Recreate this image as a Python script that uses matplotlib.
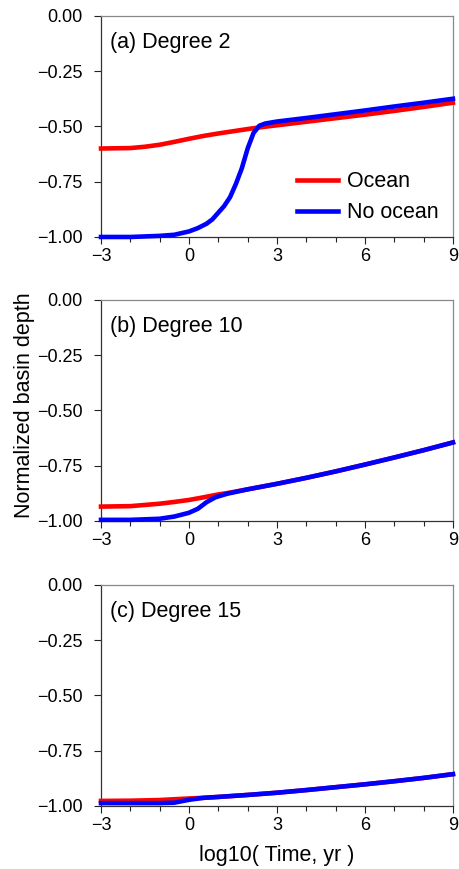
import matplotlib
matplotlib.use("Agg")
import matplotlib.pyplot as plt
from matplotlib.ticker import MultipleLocator

plt.rcParams['font.family'] = ['Liberation Sans', 'DejaVu Sans']

# panel (a) degree 2
t_a_ocean = [-3, -2, -1.5, -1, -0.5, 0, 0.5, 1, 1.5, 2, 2.5, 3, 4, 5, 6, 7, 8, 9]
d_a_ocean = [-0.600, -0.598, -0.592, -0.583, -0.570, -0.556, -0.543, -0.532, -0.522,
             -0.512, -0.503, -0.495, -0.479, -0.463, -0.447, -0.430, -0.412, -0.393]
t_a_dry = [-3, -2, -1, -0.5, 0, 0.3, 0.6, 0.8, 1.0, 1.2, 1.4, 1.6, 1.8, 2.0, 2.2,
           2.4, 2.6, 3, 4, 5, 6, 7, 8, 9]
d_a_dry = [-1.0, -1.0, -0.995, -0.99, -0.975, -0.96, -0.94, -0.92, -0.89, -0.86,
           -0.82, -0.76, -0.69, -0.60, -0.53, -0.497, -0.487, -0.478, -0.462,
           -0.445, -0.428, -0.410, -0.393, -0.375]

# panel (b) degree 10
t_b_ocean = [-3, -2, -1, -0.5, 0, 0.5, 1, 1.3, 2, 3, 4, 5, 6, 7, 8, 9]
d_b_ocean = [-0.935, -0.933, -0.922, -0.914, -0.905, -0.893, -0.880, -0.874, -0.857,
             -0.832, -0.805, -0.776, -0.745, -0.713, -0.680, -0.645]
t_b_dry = [-3, -2, -1, -0.5, 0, 0.3, 0.6, 0.9, 1.3, 2, 3, 4, 5, 6, 7, 8, 9]
d_b_dry = [-0.995, -0.995, -0.99, -0.98, -0.963, -0.945, -0.915, -0.893, -0.877,
           -0.857, -0.832, -0.805, -0.776, -0.745, -0.713, -0.680, -0.645]

# panel (c) degree 15
t_c_ocean = [-3, -2, -1, 0, 0.5, 1, 2, 3, 4, 5, 6, 7, 8, 9]
d_c_ocean = [-0.977, -0.976, -0.973, -0.966, -0.963, -0.959, -0.950, -0.940, -0.928,
             -0.915, -0.902, -0.888, -0.873, -0.856]
t_c_dry = [-3, -2, -1, -0.5, 0, 0.5, 1, 2, 3, 4, 5, 6, 7, 8, 9]
d_c_dry = [-0.987, -0.987, -0.987, -0.985, -0.972, -0.963, -0.959, -0.950, -0.940,
           -0.928, -0.915, -0.902, -0.888, -0.873, -0.856]

panels = [
    ("(a) Degree 2", t_a_ocean, d_a_ocean, t_a_dry, d_a_dry),
    ("(b) Degree 10", t_b_ocean, d_b_ocean, t_b_dry, d_b_dry),
    ("(c) Degree 15", t_c_ocean, d_c_ocean, t_c_dry, d_c_dry),
]
y_ticks = [0.0, -0.25, -0.5, -0.75, -1.0]
y_labels = ["0.00", "\u22120.25", "\u22120.50", "\u22120.75", "\u22121.00"]
x_ticks = [-3, 0, 3, 6, 9]
x_labels = ["\u22123", "0", "3", "6", "9"]

fig = plt.figure(figsize=(4.6, 8.69), dpi=100)
bottoms = [0.7273, 0.4005, 0.0725]
axes = []
for i, (title, t1, d1, t2, d2) in enumerate(panels):
    ax = fig.add_axes([0.2196, bottoms[i], 0.765, 0.2545])
    ax.plot(t1, d1, color='#ff0000', lw=3.3, label='Ocean', clip_on=False, zorder=3)
    ax.plot(t2, d2, color='#0000ff', lw=3.3, label='No ocean', clip_on=False, zorder=4)
    ax.set_xlim(-3, 9)
    ax.set_ylim(-1.0, 0.0)
    ax.set_yticks(y_ticks)
    ax.set_yticklabels(y_labels)
    ax.set_xticks(x_ticks)
    ax.set_xticklabels(x_labels)
    ax.xaxis.set_minor_locator(MultipleLocator(1))
    ax.tick_params(which='major', direction='out', length=5, width=0.8,
                   labelsize=13, colors='#222222')
    ax.tick_params(axis='y', pad=8)
    ax.tick_params(axis='x', pad=3)
    ax.tick_params(which='minor', direction='out', length=3.5, width=0.8, colors='#222222')
    ax.tick_params(axis='both', labelcolor='black')
    for s in ['left', 'bottom']:
        ax.spines[s].set_color('#333333')
        ax.spines[s].set_linewidth(0.9)
    for s in ['top', 'right']:
        ax.spines[s].set_color('#888888')
        ax.spines[s].set_linewidth(0.9)
    ax.text(0.026, 0.928, title, transform=ax.transAxes, fontsize=15.5,
            ha='left', va='top')
    axes.append(ax)

axes[0].legend(loc='lower right', bbox_to_anchor=(1.015, -0.025), frameon=False,
               fontsize=15.5, handlelength=1.9, handletextpad=0.45, labelspacing=0.45)
fig.text(0.602, 1 - 856 / 869, "log10( Time, yr )", fontsize=15.5,
         ha='center', va='center')
fig.text(0.054, 0.534, "Normalized basin depth", rotation=90, fontsize=15.5,
         ha='center', va='center')

fig.savefig("out.png", dpi=100)
